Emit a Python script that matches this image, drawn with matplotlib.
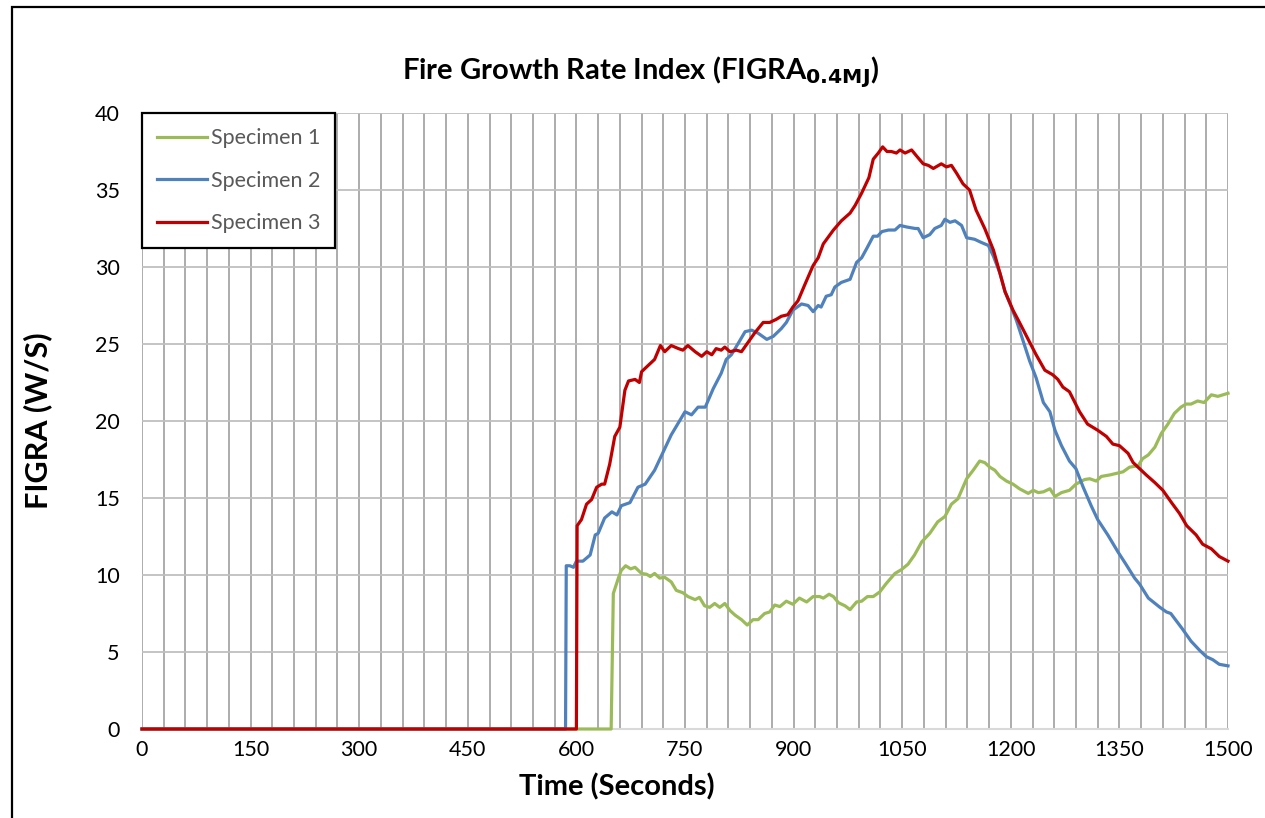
import matplotlib
matplotlib.use("Agg")
import matplotlib.pyplot as plt
from matplotlib.patches import Rectangle
import numpy as np

plt.rcParams['font.family'] = ['Lato', 'DejaVu Sans']

# Specimen 1 (green)
t1 = [0, 648, 651, 658, 662, 668, 675, 681, 690, 697, 702, 708, 715, 722, 731,
      738, 747, 754, 764, 770, 777, 784, 791, 798, 805, 812, 819, 828, 836, 844,
      851, 860, 867, 874, 881, 890, 899, 908, 918, 927, 936, 941, 949, 955, 962,
      971, 978, 987, 994, 1002, 1010, 1019, 1028, 1040, 1049, 1058, 1067, 1077,
      1088, 1099, 1109, 1118, 1127, 1139, 1148, 1157, 1164, 1171, 1178, 1185,
      1194, 1203, 1212, 1224, 1231, 1238, 1245, 1254, 1261, 1270, 1281, 1290,
      1302, 1309, 1318, 1325, 1337, 1346, 1355, 1364, 1376, 1382, 1390, 1399,
      1408, 1417, 1426, 1435, 1442, 1449, 1458, 1467, 1477, 1486, 1500]
s1 = [0, 0, 8.8, 9.8, 10.3, 10.6, 10.4, 10.5, 10.1, 10.05, 9.9, 10.1, 9.8, 9.85,
      9.55, 9.0, 8.85, 8.6, 8.4, 8.55, 8.0, 7.9, 8.15, 7.9, 8.15, 7.7, 7.4, 7.1,
      6.75, 7.1, 7.1, 7.5, 7.6, 8.05, 7.95, 8.3, 8.1, 8.5, 8.25, 8.6, 8.6, 8.5,
      8.75, 8.6, 8.2, 8.0, 7.75, 8.25, 8.3, 8.6, 8.6, 8.9, 9.45, 10.1, 10.35,
      10.7, 11.3, 12.15, 12.7, 13.45, 13.8, 14.6, 14.95, 16.25, 16.8, 17.4, 17.3,
      17.0, 16.8, 16.4, 16.1, 15.9, 15.6, 15.3, 15.5, 15.35, 15.4, 15.6, 15.1,
      15.35, 15.5, 15.9, 16.2, 16.25, 16.1, 16.4, 16.5, 16.6, 16.7, 17.0, 17.1,
      17.55, 17.8, 18.3, 19.2, 19.8, 20.5, 20.9, 21.1, 21.1, 21.3, 21.2, 21.7,
      21.6, 21.8]

# Specimen 2 (blue)
t2 = [0, 585, 586, 591, 596, 600, 609, 619, 626, 630, 639, 649, 656, 662, 674,
      685, 695, 708, 718, 731, 750, 759, 768, 778, 789, 800, 807, 814, 823, 833,
      842, 851, 863, 872, 883, 890, 899, 911, 920, 927, 934, 938, 945, 952, 957,
      966, 978, 987, 994, 1001, 1010, 1016, 1022, 1031, 1040, 1047, 1056, 1068,
      1072, 1079, 1088, 1095, 1104, 1109, 1116, 1123, 1132, 1139, 1150, 1159,
      1169, 1176, 1185, 1192, 1199, 1208, 1217, 1226, 1235, 1245, 1254, 1261,
      1270, 1281, 1290, 1300, 1311, 1320, 1334, 1348, 1359, 1371, 1378, 1390,
      1406, 1415, 1421, 1437, 1449, 1461, 1470, 1479, 1488, 1500]
s2 = [0, 0, 10.6, 10.6, 10.5, 10.9, 10.9, 11.3, 12.6, 12.7, 13.7, 14.1, 13.9,
      14.5, 14.7, 15.7, 15.9, 16.8, 17.8, 19.1, 20.6, 20.4, 20.9, 20.9, 22.1,
      23.1, 24.0, 24.3, 25.0, 25.8, 25.9, 25.7, 25.3, 25.5, 26.0, 26.4, 27.2,
      27.6, 27.5, 27.1, 27.5, 27.4, 28.1, 28.2, 28.7, 29.0, 29.2, 30.3, 30.6,
      31.2, 32.0, 32.0, 32.3, 32.4, 32.4, 32.7, 32.6, 32.5, 32.5, 31.9, 32.1,
      32.5, 32.7, 33.1, 32.9, 33.0, 32.7, 31.9, 31.8, 31.6, 31.4, 30.7, 29.6,
      28.4, 27.6, 26.5, 25.2, 23.9, 22.8, 21.2, 20.6, 19.4, 18.4, 17.4, 16.9,
      15.7, 14.5, 13.6, 12.6, 11.5, 10.7, 9.8, 9.4, 8.5, 7.9, 7.6, 7.5, 6.5,
      5.7, 5.1, 4.7, 4.5, 4.2, 4.1]

# Specimen 3 (red)
t3 = [0, 600, 601, 607, 614, 621, 628, 635, 639, 646, 653, 660, 667, 672, 681,
      687, 690, 699, 708, 716, 722, 731, 741, 747, 754, 764, 773, 780, 787, 793,
      800, 805, 812, 821, 828, 837, 846, 858, 867, 876, 883, 892, 899, 906, 915,
      927, 934, 941, 955, 966, 978, 985, 994, 1004, 1010, 1017, 1023, 1029, 1035,
      1042, 1047, 1054, 1063, 1070, 1079, 1086, 1093, 1104, 1111, 1118, 1125,
      1134, 1143, 1152, 1164, 1176, 1185, 1192, 1203, 1212, 1224, 1235, 1247,
      1258, 1265, 1272, 1281, 1295, 1306, 1320, 1332, 1341, 1350, 1362, 1369,
      1378, 1387, 1399, 1410, 1422, 1433, 1443, 1456, 1465, 1477, 1488, 1500]
s3 = [0, 0, 13.2, 13.6, 14.6, 14.9, 15.7, 15.9, 15.9, 17.2, 19.0, 19.6, 22.0,
      22.6, 22.7, 22.5, 23.2, 23.6, 24.0, 24.9, 24.5, 24.9, 24.7, 24.6, 24.9,
      24.5, 24.2, 24.5, 24.3, 24.7, 24.6, 24.8, 24.5, 24.6, 24.5, 25.1, 25.7,
      26.4, 26.4, 26.6, 26.8, 26.9, 27.4, 27.8, 28.8, 30.1, 30.6, 31.5, 32.4,
      33.0, 33.5, 34.0, 34.8, 35.8, 37.0, 37.4, 37.8, 37.5, 37.5, 37.4, 37.6,
      37.4, 37.6, 37.2, 36.7, 36.6, 36.4, 36.7, 36.5, 36.6, 36.1, 35.4, 35.0,
      33.7, 32.5, 31.1, 29.6, 28.4, 27.2, 26.4, 25.3, 24.3, 23.3, 23.0, 22.7,
      22.2, 21.9, 20.6, 19.8, 19.4, 19.0, 18.5, 18.4, 17.9, 17.3, 16.9, 16.5,
      16.0, 15.5, 14.7, 14.0, 13.2, 12.6, 12.0, 11.7, 11.2, 10.9]

labels = ['Specimen 1', 'Specimen 2', 'Specimen 3']
colors = ['#9BBB59', '#4F81BD', '#C00000']

fig = plt.figure(figsize=(12.65, 8.18), dpi=100)
W, H = 1265, 818
ax = fig.add_axes([142 / W, 1 - 729 / H, (1228 - 142) / W, (729 - 113) / H])

# chart border (runs off the right and bottom of the picture)
fig.add_artist(Rectangle((12 / W, -0.5), 2.0, 1.5 - 7 / H, transform=fig.transFigure,
                         fill=False, edgecolor='black', linewidth=1.6))

for t, s, lab, c in zip([t1, t2, t3], [s1, s2, s3], labels, colors):
    ax.plot(t, s, color=c, lw=2.3, label=lab, clip_on=False, zorder=3)

ax.set_xlim(0, 1500)
ax.set_ylim(0, 40)
ax.set_xticks(np.arange(0, 1501, 150))
ax.set_xticks(np.arange(0, 1501, 30), minor=True)
ax.set_yticks(np.arange(0, 41, 5))
ax.grid(axis='x', which='both', color='#A6A6A6', lw=1.3, zorder=0)
ax.grid(axis='y', which='major', color='#BFBFBF', lw=1.3, zorder=0)
ax.set_axisbelow(True)
for side in ['left', 'right', 'top']:
    ax.spines[side].set_visible(False)
ax.spines['bottom'].set_color('#D9D9D9')
ax.spines['bottom'].set_linewidth(1.5)
ax.tick_params(axis='both', which='both', length=0, labelsize=15.5)
ax.tick_params(axis='y', pad=16)
ax.tick_params(axis='x', pad=8)

fig.text(641 / W, 1 - 72 / H, r'Fire Growth Rate Index (FIGRA$_{\mathbf{0.4MJ}}$)',
         ha='center', va='center', fontsize=21, fontweight='bold')
fig.text(617 / W, 1 - 787 / H, 'Time (Seconds)', ha='center', va='center',
         fontsize=21, fontweight='bold')
fig.text(38 / W, 1 - 421 / H, 'FIGRA (W/S)', ha='center', va='center',
         fontsize=22, fontweight='bold', rotation=90)

leg = ax.legend(loc='upper left', bbox_to_anchor=(0, 1), borderaxespad=0,
                fontsize=15.5, fancybox=False, framealpha=1, edgecolor='black',
                handlelength=2.3, labelspacing=1.05, borderpad=0.7,
                handletextpad=0.2)
leg.get_frame().set_linewidth(1.6)
for txt in leg.get_texts():
    txt.set_color('#595959')

fig.savefig('out.png', dpi=100)
